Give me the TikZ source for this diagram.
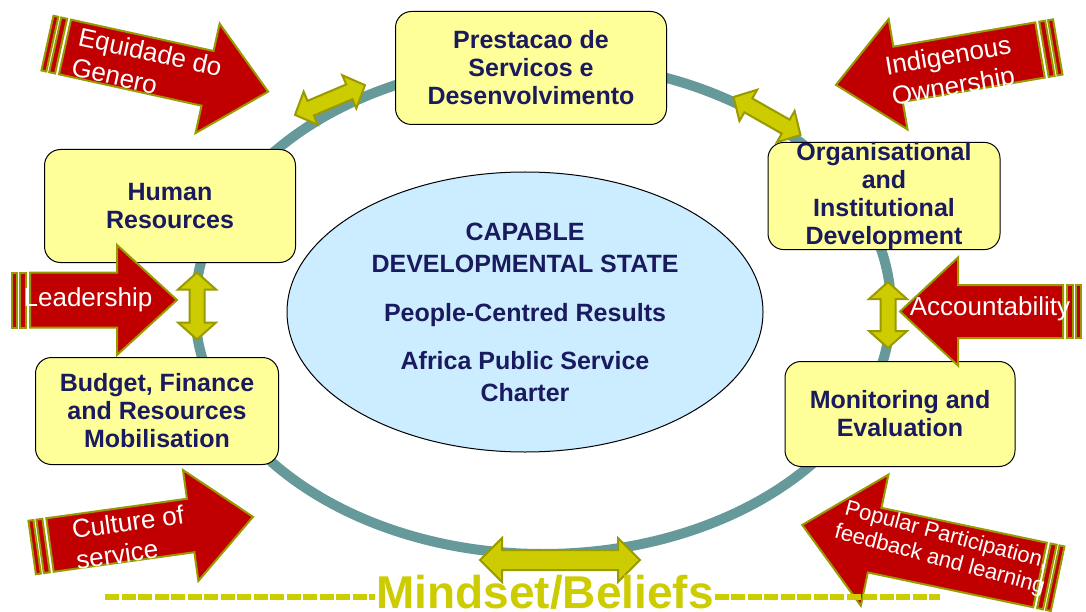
\documentclass[tikz,border=0pt]{standalone}
\usepackage{fontspec}
\setmainfont{Liberation Sans}
\usepackage{tikz}
\usetikzlibrary{calc,shapes.geometric}
\definecolor{ringteal}{RGB}{102,153,153}
\definecolor{boxyellow}{RGB}{255,255,153}
\definecolor{coreblue}{RGB}{204,236,255}
\definecolor{textnavy}{RGB}{26,26,94}
\definecolor{arrowred}{RGB}{192,0,0}
\definecolor{arrowolive}{RGB}{153,153,0}
\definecolor{linkyellow}{RGB}{204,204,0}
\def\redarrow[#1](#2)(#3:#4:#5:#6:#7){\begin{scope}[shift={(#2)},rotate=#3]
	\draw[#1] (0,-#5) -- ({#4-#7},-#5) -- ({#4-#7},-#6) -- (#4,0) -- ({#4-#7},#6) -- ({#4-#7},#5) -- (0,#5) -- cycle;
	\draw[#1] (-18,-#5) rectangle (-13,#5);
	\draw[#1] (-10,-#5) rectangle (-4,#5);
	\end{scope}}
\def\linkarrow[#1](#2)(#3:#4:#5:#6:#7){\begin{scope}[shift={(#2)},rotate=#3]
	\draw[#1] (-#4,0) -- ({-#4+#7},-#6) -- ({-#4+#7},-#5) -- ({#4-#7},-#5) -- ({#4-#7},-#6) -- (#4,0) -- ({#4-#7},#6) -- ({#4-#7},#5) -- ({-#4+#7},#5) -- ({-#4+#7},#6) -- cycle;
	\end{scope}}

\begin{document}
\begin{tikzpicture}[x=1pt,y=-1pt,
		ringline/.style={draw=ringteal, line width=10pt},
		capbox/.style={draw=black, line width=1pt, fill=boxyellow, rounded corners=16pt, align=center, text=textnavy, inner sep=0pt, font=\fontsize{25}{28}\selectfont\bfseries},
		core/.style={ellipse, draw=black, line width=1pt, fill=coreblue, align=center, text=textnavy, inner sep=0pt, font=\fontsize{25}{32}\selectfont\bfseries},
		redbody/.style={fill=arrowred, draw=arrowolive, line width=2pt},
		arrowtext/.style={text=white, align=center, inner sep=0pt, font=\fontsize{26}{31}\selectfont},
		link/.style={fill=linkyellow, draw=arrowolive, line width=2pt},
		dashrule/.style={draw=linkyellow, line width=6pt, dash pattern=on 14pt off 2.5pt},
		mindset/.style={text=linkyellow, inner sep=1pt, font=\fontsize{46}{50}\selectfont\bfseries}]
			%%%%% START %%%%%
			\useasboundingbox (0,0) rectangle (1086,612);
			
			\draw[ringline] (543,308) ellipse [x radius=348, y radius=246];
			
			\node[core, minimum width=476pt, minimum height=280pt] (state) at (525,312) {CAPABLE\\DEVELOPMENTAL STATE\\[17pt]People-Centred Results\\[16pt]Africa Public Service\\Charter};
			
			\node[capbox, minimum width=271pt, minimum height=113pt] (service) at (531,68) {Prestacao de\\Servicos e\\Desenvolvimento};
			\node[capbox, minimum width=251pt, minimum height=113pt] (human) at (170,206) {Human\\Resources};
			\node[capbox, minimum width=232pt, minimum height=107pt] (institution) at (884,196) {Organisational\\and\\Institutional\\Development};
			\node[capbox, minimum width=243pt, minimum height=107pt] (budget) at (157,411) {Budget, Finance\\and Resources\\Mobilisation};
			\node[capbox, minimum width=230pt, minimum height=105pt] (monitor) at (900,414) {Monitoring and\\Evaluation};
			
			\linkarrow[link](330,100)(23:38:8:18:17)
			\linkarrow[link](767,116)(-29.6:38.5:8:18:17)
			\linkarrow[link](197,306)(90:33.5:7.5:19:17)
			\linkarrow[link](888,315)(90:33:7.5:19:17)
			\linkarrow[link](560,560)(0:80:10:22:22)
			
			\redarrow[redbody](65,47)(-12.4:208:28:56:62)
			\redarrow[redbody](1040,50)(189.7:207:28:56:63)
			\redarrow[redbody](30,300)(0:147:27.5:55:60)
			\redarrow[redbody](1063,311.5)(180:163:26.5:54:58)
			\redarrow[redbody](50,545)(7.9:205:27:56:63)
			\redarrow[redbody](1040,575)(168.1:243:33:67:74)
			
			\node[arrowtext, rotate=-12.4, align=left] (equity) at (147,67) {Equidade do\\Genero};
			\node[arrowtext, rotate=9.7] (ownership) at (951,73) {Indigenous\\Ownership};
			\node[arrowtext] (leadership) at (88,300) {Leadership};
			\node[arrowtext] (accountability) at (990,309) {Accountability};
			\node[arrowtext, rotate=7.9, align=left] (culture) at (130,537) {Culture of\\service};
			\node[arrowtext, rotate=-15, font=\fontsize{22}{25}\selectfont] (participation) at (943,548) {Popular Participation,\\feedback and learning};
			
			\node[mindset, anchor=base] (beliefs) at (545,608) {Mindset/Beliefs};
			\coordinate (dashL) at (105,597);
			\coordinate (dashR) at (940,597);
			\draw[dashrule] (dashL) -- (dashL -| beliefs.west);
			\draw[dashrule] (beliefs.east |- dashR) -- (dashR);
			%%%%% END %%%%%
\end{tikzpicture}
\end{document}
